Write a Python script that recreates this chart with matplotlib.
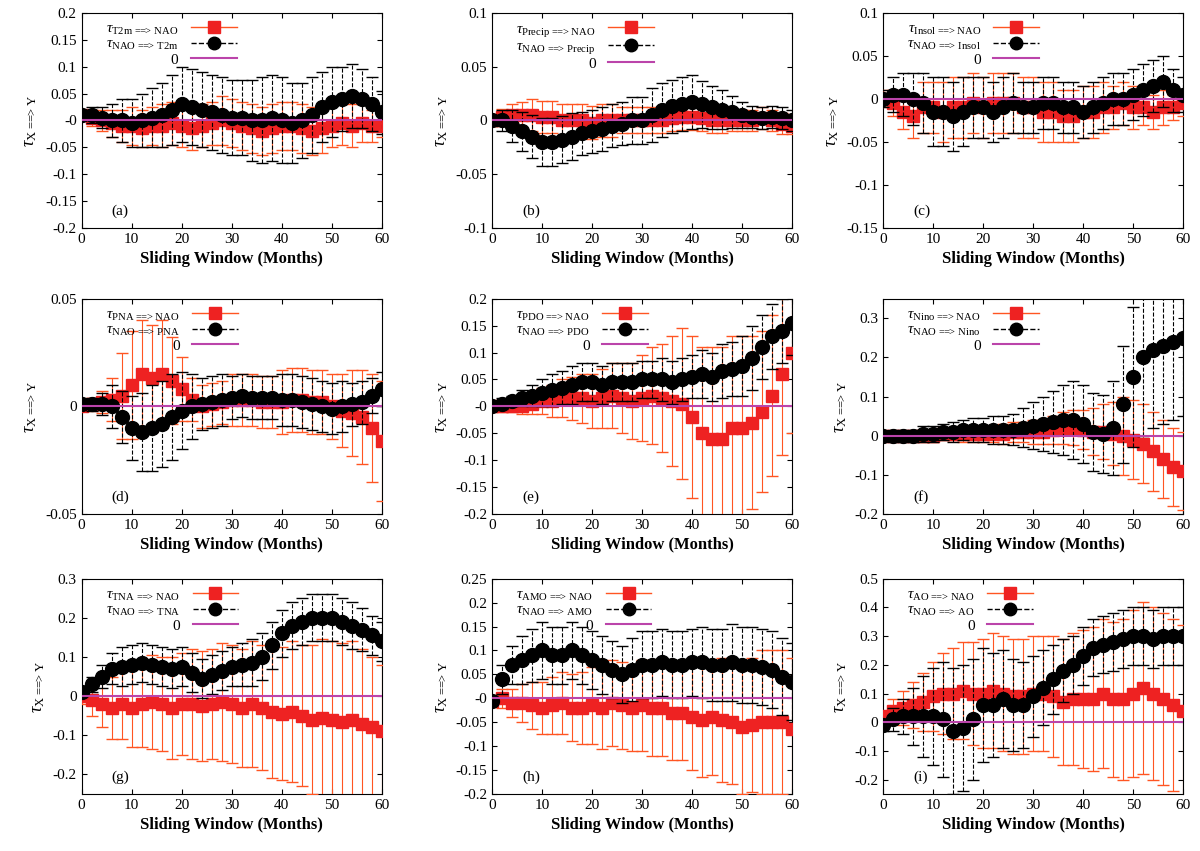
import matplotlib
matplotlib.use("Agg")
import matplotlib.pyplot as plt
from matplotlib.lines import Line2D
import numpy as np

plt.rcParams['font.family'] = ['Liberation Serif', 'DejaVu Serif']
plt.rcParams['mathtext.fontset'] = 'custom'
plt.rcParams['mathtext.rm'] = 'Liberation Serif'
plt.rcParams['mathtext.it'] = 'Liberation Serif:italic'

months = list(range(0, 61, 2))

names = ['T2m', 'Precip', 'Insol', 'PNA', 'PDO', 'Nino', 'TNA', 'AMO', 'AO']
letters = ['(a)', '(b)', '(c)', '(d)', '(e)', '(f)', '(g)', '(h)', '(i)']

ylims = [(-0.2, 0.2), (-0.1, 0.1), (-0.15, 0.1), (-0.05, 0.05), (-0.2, 0.2),
         (-0.2, 0.35), (-0.25, 0.3), (-0.2, 0.25), (-0.25, 0.5)]
ysteps = [0.05, 0.05, 0.05, 0.05, 0.05, 0.1, 0.1, 0.05, 0.1]

red_a = [0.01,0.005,0,-0.005,-0.01,-0.01,-0.015,-0.01,-0.01,-0.005,-0.01,-0.015,-0.01,-0.005,0,-0.005,-0.01,-0.015,-0.02,-0.015,-0.01,-0.01,-0.015,-0.02,-0.015,-0.01,-0.005,-0.01,-0.005,-0.01,-0.01]
blk_a = [0.01,0.01,0.005,0,0,-0.005,0,0.005,0.01,0.02,0.03,0.025,0.02,0.015,0.01,0.005,0.005,0,0,0.005,0,-0.005,0,0.01,0.025,0.035,0.04,0.045,0.04,0.03,0.015]
rerr_a = [0.01,0.015,0.02,0.025,0.03,0.035,0.035,0.035,0.04,0.04,0.04,0.04,0.04,0.04,0.045,0.045,0.045,0.045,0.045,0.045,0.045,0.045,0.045,0.045,0.045,0.04,0.04,0.04,0.035,0.03,0.02]
berr_a = [0.01,0.015,0.02,0.03,0.04,0.045,0.05,0.055,0.06,0.065,0.07,0.07,0.07,0.07,0.07,0.07,0.07,0.075,0.08,0.08,0.08,0.075,0.07,0.07,0.065,0.065,0.06,0.06,0.055,0.05,0.04]

red_b = [0,0.003,0.005,0.005,0.005,0.003,0.003,0,0,0,-0.002,0,0,0,0,0,0,0,0.002,0.003,0.003,0.002,0,0,0,0,0,0.002,0,-0.003,-0.005]
blk_b = [0,0,-0.005,-0.01,-0.015,-0.02,-0.02,-0.018,-0.015,-0.012,-0.01,-0.008,-0.005,-0.003,0,0,0.005,0.01,0.013,0.015,0.017,0.015,0.012,0.01,0.008,0.005,0.003,0.002,0.003,0.002,0]
rerr_b = [0.005,0.008,0.01,0.012,0.015,0.015,0.015,0.015,0.015,0.015,0.015,0.015,0.015,0.012,0.012,0.012,0.012,0.012,0.012,0.012,0.012,0.012,0.012,0.012,0.01,0.01,0.01,0.01,0.01,0.01,0.008]
berr_b = [0.005,0.01,0.015,0.018,0.02,0.022,0.022,0.022,0.022,0.02,0.02,0.02,0.02,0.02,0.022,0.022,0.025,0.025,0.025,0.025,0.025,0.022,0.02,0.018,0.015,0.012,0.01,0.01,0.01,0.01,0.01]

red_c = [0,-0.005,-0.015,-0.02,-0.01,-0.01,-0.015,-0.01,-0.01,-0.005,-0.01,-0.005,-0.005,-0.005,-0.01,-0.01,-0.015,-0.015,-0.02,-0.02,-0.015,-0.015,-0.01,-0.01,-0.005,-0.01,-0.01,-0.015,-0.01,-0.01,-0.005]
blk_c = [0,0.005,0.005,0,-0.005,-0.015,-0.015,-0.02,-0.015,-0.01,-0.01,-0.015,-0.01,-0.005,-0.01,-0.01,-0.005,-0.005,-0.01,-0.01,-0.015,-0.01,-0.005,0,0,0.005,0.01,0.015,0.02,0.01,0.005]
rerr_c = [0.01,0.015,0.02,0.025,0.03,0.03,0.035,0.035,0.035,0.035,0.035,0.035,0.035,0.035,0.035,0.035,0.035,0.035,0.03,0.03,0.03,0.03,0.03,0.025,0.025,0.025,0.02,0.02,0.02,0.015,0.015]
berr_c = [0.01,0.02,0.025,0.03,0.035,0.04,0.04,0.04,0.04,0.035,0.035,0.035,0.035,0.035,0.03,0.03,0.03,0.03,0.03,0.03,0.03,0.03,0.03,0.03,0.03,0.03,0.03,0.03,0.03,0.025,0.02]

red_d = [0,0.001,0.002,0.003,0.005,0.01,0.015,0.013,0.015,0.012,0.008,0.003,0,0.001,0.002,0.003,0.003,0.003,0.002,0.002,0.002,0.003,0.003,0.002,0.002,0,-0.002,-0.003,-0.005,-0.01,-0.016]
blk_d = [0.001,0.001,0.001,0,-0.005,-0.01,-0.012,-0.01,-0.008,-0.005,-0.002,0,0.001,0.002,0.003,0.004,0.005,0.004,0.004,0.004,0.003,0.003,0.002,0.001,0,-0.001,0,0.001,0.002,0.005,0.008]
rerr_d = [0.001,0.003,0.005,0.01,0.02,0.025,0.025,0.025,0.025,0.02,0.015,0.01,0.01,0.01,0.01,0.012,0.012,0.012,0.012,0.012,0.015,0.015,0.015,0.015,0.015,0.015,0.017,0.02,0.022,0.025,0.028]
berr_d = [0.001,0.003,0.005,0.01,0.012,0.015,0.018,0.02,0.02,0.02,0.018,0.015,0.012,0.012,0.012,0.01,0.01,0.01,0.01,0.01,0.012,0.012,0.012,0.012,0.012,0.012,0.012,0.01,0.01,0.008,0.008]

red_e = [0,0,0,0,0.005,0.01,0.01,0.015,0.015,0.015,0.01,0.015,0.02,0.015,0.01,0.015,0.02,0.015,0.01,0.005,-0.02,-0.05,-0.06,-0.06,-0.04,-0.04,-0.03,-0.01,0.02,0.06,0.1]
blk_e = [0,0.005,0.01,0.015,0.02,0.025,0.03,0.035,0.04,0.045,0.045,0.04,0.045,0.045,0.045,0.05,0.05,0.05,0.045,0.05,0.055,0.06,0.055,0.065,0.07,0.075,0.09,0.11,0.13,0.14,0.155]
rerr_e = [0.005,0.01,0.01,0.015,0.02,0.025,0.03,0.035,0.04,0.045,0.05,0.055,0.06,0.065,0.07,0.08,0.09,0.1,0.12,0.14,0.15,0.16,0.17,0.17,0.17,0.17,0.16,0.15,0.15,0.15,0.15]
berr_e = [0.005,0.01,0.01,0.015,0.02,0.025,0.03,0.03,0.035,0.035,0.035,0.035,0.035,0.035,0.035,0.035,0.035,0.04,0.04,0.04,0.04,0.045,0.045,0.05,0.05,0.055,0.06,0.06,0.06,0.06,0.06]

red_f = [0,0,0,0,0,0,0.005,0.005,0.005,0.005,0.005,0.005,0.005,0.01,0.01,0.01,0.01,0.015,0.02,0.02,0.015,0.01,0.01,0.005,0,-0.01,-0.02,-0.04,-0.06,-0.08,-0.09]
blk_f = [0,0,0,0,0.005,0.005,0.01,0.01,0.015,0.015,0.015,0.015,0.015,0.015,0.02,0.025,0.03,0.035,0.04,0.04,0.03,0.01,0.005,0.02,0.08,0.15,0.2,0.22,0.23,0.24,0.25]
rerr_f = [0.01,0.01,0.01,0.01,0.015,0.015,0.015,0.015,0.02,0.02,0.02,0.02,0.025,0.025,0.025,0.03,0.03,0.035,0.04,0.045,0.05,0.06,0.07,0.08,0.1,0.1,0.1,0.1,0.1,0.1,0.1]
berr_f = [0.01,0.015,0.015,0.015,0.02,0.02,0.02,0.025,0.025,0.03,0.03,0.035,0.035,0.04,0.05,0.06,0.07,0.08,0.09,0.1,0.1,0.1,0.1,0.12,0.15,0.18,0.2,0.2,0.2,0.2,0.2]

red_g = [0,-0.01,-0.02,-0.03,-0.02,-0.03,-0.02,-0.015,-0.02,-0.03,-0.02,-0.02,-0.025,-0.02,-0.015,-0.02,-0.03,-0.02,-0.03,-0.04,-0.045,-0.04,-0.05,-0.06,-0.055,-0.06,-0.065,-0.06,-0.07,-0.08,-0.09]
blk_g = [0.01,0.03,0.05,0.07,0.075,0.08,0.085,0.08,0.075,0.07,0.075,0.06,0.045,0.055,0.065,0.075,0.08,0.085,0.1,0.13,0.16,0.18,0.19,0.2,0.2,0.2,0.19,0.18,0.17,0.155,0.14]
rerr_g = [0.02,0.04,0.06,0.08,0.09,0.1,0.11,0.12,0.12,0.13,0.13,0.14,0.14,0.14,0.15,0.15,0.15,0.16,0.16,0.17,0.17,0.18,0.18,0.19,0.2,0.2,0.2,0.2,0.19,0.18,0.17]
berr_g = [0.01,0.02,0.03,0.04,0.05,0.05,0.05,0.05,0.05,0.05,0.05,0.05,0.05,0.05,0.05,0.05,0.055,0.06,0.06,0.06,0.06,0.06,0.06,0.06,0.06,0.06,0.06,0.06,0.055,0.05,0.05]

red_h = [-0.005,0,-0.01,-0.01,-0.015,-0.02,-0.015,-0.01,-0.02,-0.02,-0.015,-0.02,-0.01,-0.015,-0.02,-0.015,-0.02,-0.02,-0.03,-0.03,-0.04,-0.045,-0.04,-0.045,-0.05,-0.06,-0.055,-0.05,-0.05,-0.05,-0.065]
blk_h = [-0.005,0.04,0.07,0.08,0.09,0.1,0.09,0.09,0.1,0.09,0.08,0.07,0.06,0.05,0.06,0.07,0.07,0.075,0.07,0.07,0.075,0.075,0.07,0.07,0.075,0.07,0.07,0.065,0.06,0.045,0.035]
rerr_h = [0.01,0.02,0.03,0.04,0.05,0.055,0.06,0.065,0.07,0.075,0.08,0.085,0.09,0.09,0.09,0.095,0.1,0.1,0.1,0.1,0.11,0.12,0.12,0.13,0.13,0.14,0.14,0.15,0.15,0.15,0.15]
berr_h = [0.01,0.03,0.04,0.05,0.055,0.06,0.06,0.06,0.06,0.06,0.06,0.06,0.06,0.06,0.065,0.07,0.07,0.07,0.07,0.07,0.07,0.075,0.075,0.075,0.08,0.08,0.08,0.08,0.08,0.08,0.08]

red_i = [0.02,0.04,0.05,0.06,0.07,0.09,0.1,0.1,0.11,0.1,0.1,0.11,0.1,0.09,0.09,0.1,0.1,0.09,0.07,0.08,0.08,0.08,0.1,0.08,0.08,0.1,0.12,0.1,0.08,0.06,0.04]
blk_i = [-0.01,0.01,0.02,0.02,0.02,0.02,0.01,-0.03,-0.02,0.01,0.06,0.06,0.08,0.06,0.06,0.09,0.12,0.15,0.18,0.2,0.23,0.26,0.27,0.28,0.29,0.3,0.3,0.29,0.3,0.3,0.3]
rerr_i = [0.02,0.04,0.06,0.08,0.1,0.12,0.14,0.16,0.17,0.18,0.19,0.2,0.2,0.2,0.2,0.2,0.2,0.21,0.22,0.23,0.24,0.25,0.26,0.27,0.28,0.29,0.3,0.3,0.3,0.3,0.3]
berr_i = [0.02,0.04,0.06,0.1,0.14,0.17,0.2,0.22,0.22,0.21,0.2,0.18,0.17,0.16,0.15,0.14,0.13,0.12,0.11,0.1,0.1,0.1,0.1,0.1,0.1,0.1,0.1,0.1,0.1,0.1,0.1]

reds = [red_a, red_b, red_c, red_d, red_e, red_f, red_g, red_h, red_i]
blks = [blk_a, blk_b, blk_c, blk_d, blk_e, blk_f, blk_g, blk_h, blk_i]
rerrs = [rerr_a, rerr_b, rerr_c, rerr_d, rerr_e, rerr_f, rerr_g, rerr_h, rerr_i]
berrs = [berr_a, berr_b, berr_c, berr_d, berr_e, berr_f, berr_g, berr_h, berr_i]

ARROW = r'\!=\!\!\!=\!\!\!>\!'

fig = plt.figure(figsize=(12, 8.51), dpi=100)
lefts = [0.068, 0.41, 0.736]
bottoms = [0.732, 0.396, 0.067]

for k in range(9):
    ax = fig.add_axes([lefts[k % 3], bottoms[k // 3], 0.25, 0.253])
    n = names[k]
    ax.errorbar(months, reds[k], yerr=rerrs[k], fmt='s', color='#ee2222', ms=9,
                ecolor='#ff5522', elinewidth=0.8, capsize=4, zorder=3)
    eb = ax.errorbar(months, blks[k], yerr=berrs[k], fmt='o', color='black', ms=10,
                     ecolor='black', elinewidth=0.8, capsize=4, zorder=4)
    eb[-1][0].set_linestyle('--')
    ax.axhline(0, color='#bb44aa', lw=1.5, zorder=5)
    ax.set_xlim(0, 60)
    ax.set_ylim(*ylims[k])
    ax.set_xticks(range(0, 61, 10))
    lo, hi = ylims[k]
    st = ysteps[k]
    ticks = np.arange(np.ceil(lo / st - 1e-9) * st, hi + 1e-9, st)
    if k == 3:
        ticks = [-0.05, 0, 0.05]
    ax.set_yticks(ticks)
    ax.set_yticklabels(['%g' % round(t, 3) for t in ticks])
    ax.tick_params(direction='in', top=True, right=True, labelsize=11)
    ax.set_xlabel('Sliding Window (Months)', fontsize=12, fontweight='bold')
    ax.set_ylabel(r'$\tau_{\mathrm{X\ %s\ Y}}$' % ARROW, fontsize=13)
    ax.text(0.1, 0.06, letters[k], transform=ax.transAxes, fontsize=11)
    handles = [Line2D([], [], color='#ff5522', lw=1, marker='s', ms=9,
                      mfc='#ee2222', mec='#ee2222'),
               Line2D([], [], color='black', lw=1, ls='--', marker='o', ms=9),
               Line2D([], [], color='#bb44aa', lw=1.5)]
    labels = [r'$\tau_{\mathrm{%s\ %s\ NAO}}$' % (n, ARROW),
              r'$\tau_{\mathrm{NAO\ %s\ %s}}$' % (ARROW, n), '0']
    ax.legend(handles, labels, loc='upper left', markerfirst=False, frameon=False,
              fontsize=11, handlelength=3, borderaxespad=0.2, labelspacing=0.05,
              bbox_to_anchor=(0.05, 1.0))

fig.savefig('out.png', dpi=100)
